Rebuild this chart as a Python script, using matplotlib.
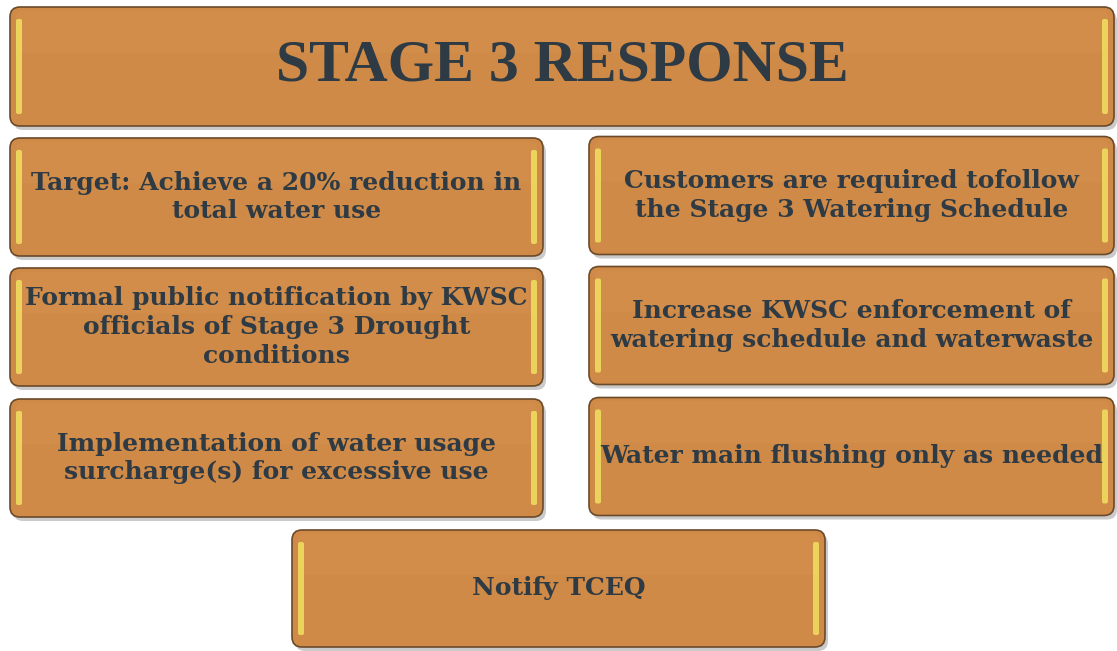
import matplotlib.pyplot as plt
from matplotlib.patches import FancyBboxPatch

W, H = 1117, 651

title = "STAGE 3 RESPONSE"
left_items = [
    "Target: Achieve a 20% reduction in\ntotal water use",
    "Formal public notification by KWSC\nofficials of Stage 3 Drought\nconditions",
    "Implementation of water usage\nsurcharge(s) for excessive use",
]
right_items = [
    "Customers are required tofollow\nthe Stage 3 Watering Schedule",
    "Increase KWSC enforcement of\nwatering schedule and waterwaste",
    "Water main flushing only as needed",
]
bottom_item = "Notify TCEQ"

FILL = '#cf8a48'
EDGE = '#6b4a2a'
TEXT = '#2e3a44'


def draw_box(ax, x, y, w, h, label, size, family=('DejaVu Serif',)):
    # drop shadow
    ax.add_patch(FancyBboxPatch((x + 3, y + 4), w, h, boxstyle="round,pad=0,rounding_size=10",
                                fc='#8a8a8a', ec='none', alpha=0.45, zorder=1))
    ax.add_patch(FancyBboxPatch((x, y), w, h, boxstyle="round,pad=0,rounding_size=10",
                                fc=FILL, ec=EDGE, lw=1.2, zorder=2))
    # faint lighter band on the top for a bit of gloss
    ax.add_patch(FancyBboxPatch((x + 6, y + 4), w - 12, h * 0.35, boxstyle="round,pad=0,rounding_size=6",
                                fc='#d8984f', ec='none', alpha=0.25, zorder=3))
    # yellow side highlights
    for sx in (x + 6, x + w - 12):
        ax.add_patch(FancyBboxPatch((sx, y + 12), 6, h - 24, boxstyle="round,pad=0,rounding_size=2",
                                    fc='#f0e060', ec='none', alpha=0.85, zorder=3))
    ax.text(x + w / 2, y + h / 2, label, ha='center', va='center', fontsize=size,
            fontweight='bold', family=list(family), color=TEXT, linespacing=1.25, zorder=4)


fig = plt.figure(figsize=(W / 100, H / 100), dpi=100)
ax = fig.add_axes([0, 0, 1, 1])
ax.set_xlim(0, W)
ax.set_ylim(H, 0)
ax.axis('off')

draw_box(ax, 10, 7, 1104, 119, title, 43, family=('Liberation Serif',))

col_x = [10, 589]
col_w = [533, 525]
row_y = [138, 268, 399]
row_h = 118
for col, items in enumerate([left_items, right_items]):
    for row, label in enumerate(items):
        draw_box(ax, col_x[col], row_y[row] - col * 1.5, col_w[col], row_h, label, 18)

draw_box(ax, 292, 530, 533, 117, bottom_item, 18)

fig.savefig('out.png', dpi=100)
